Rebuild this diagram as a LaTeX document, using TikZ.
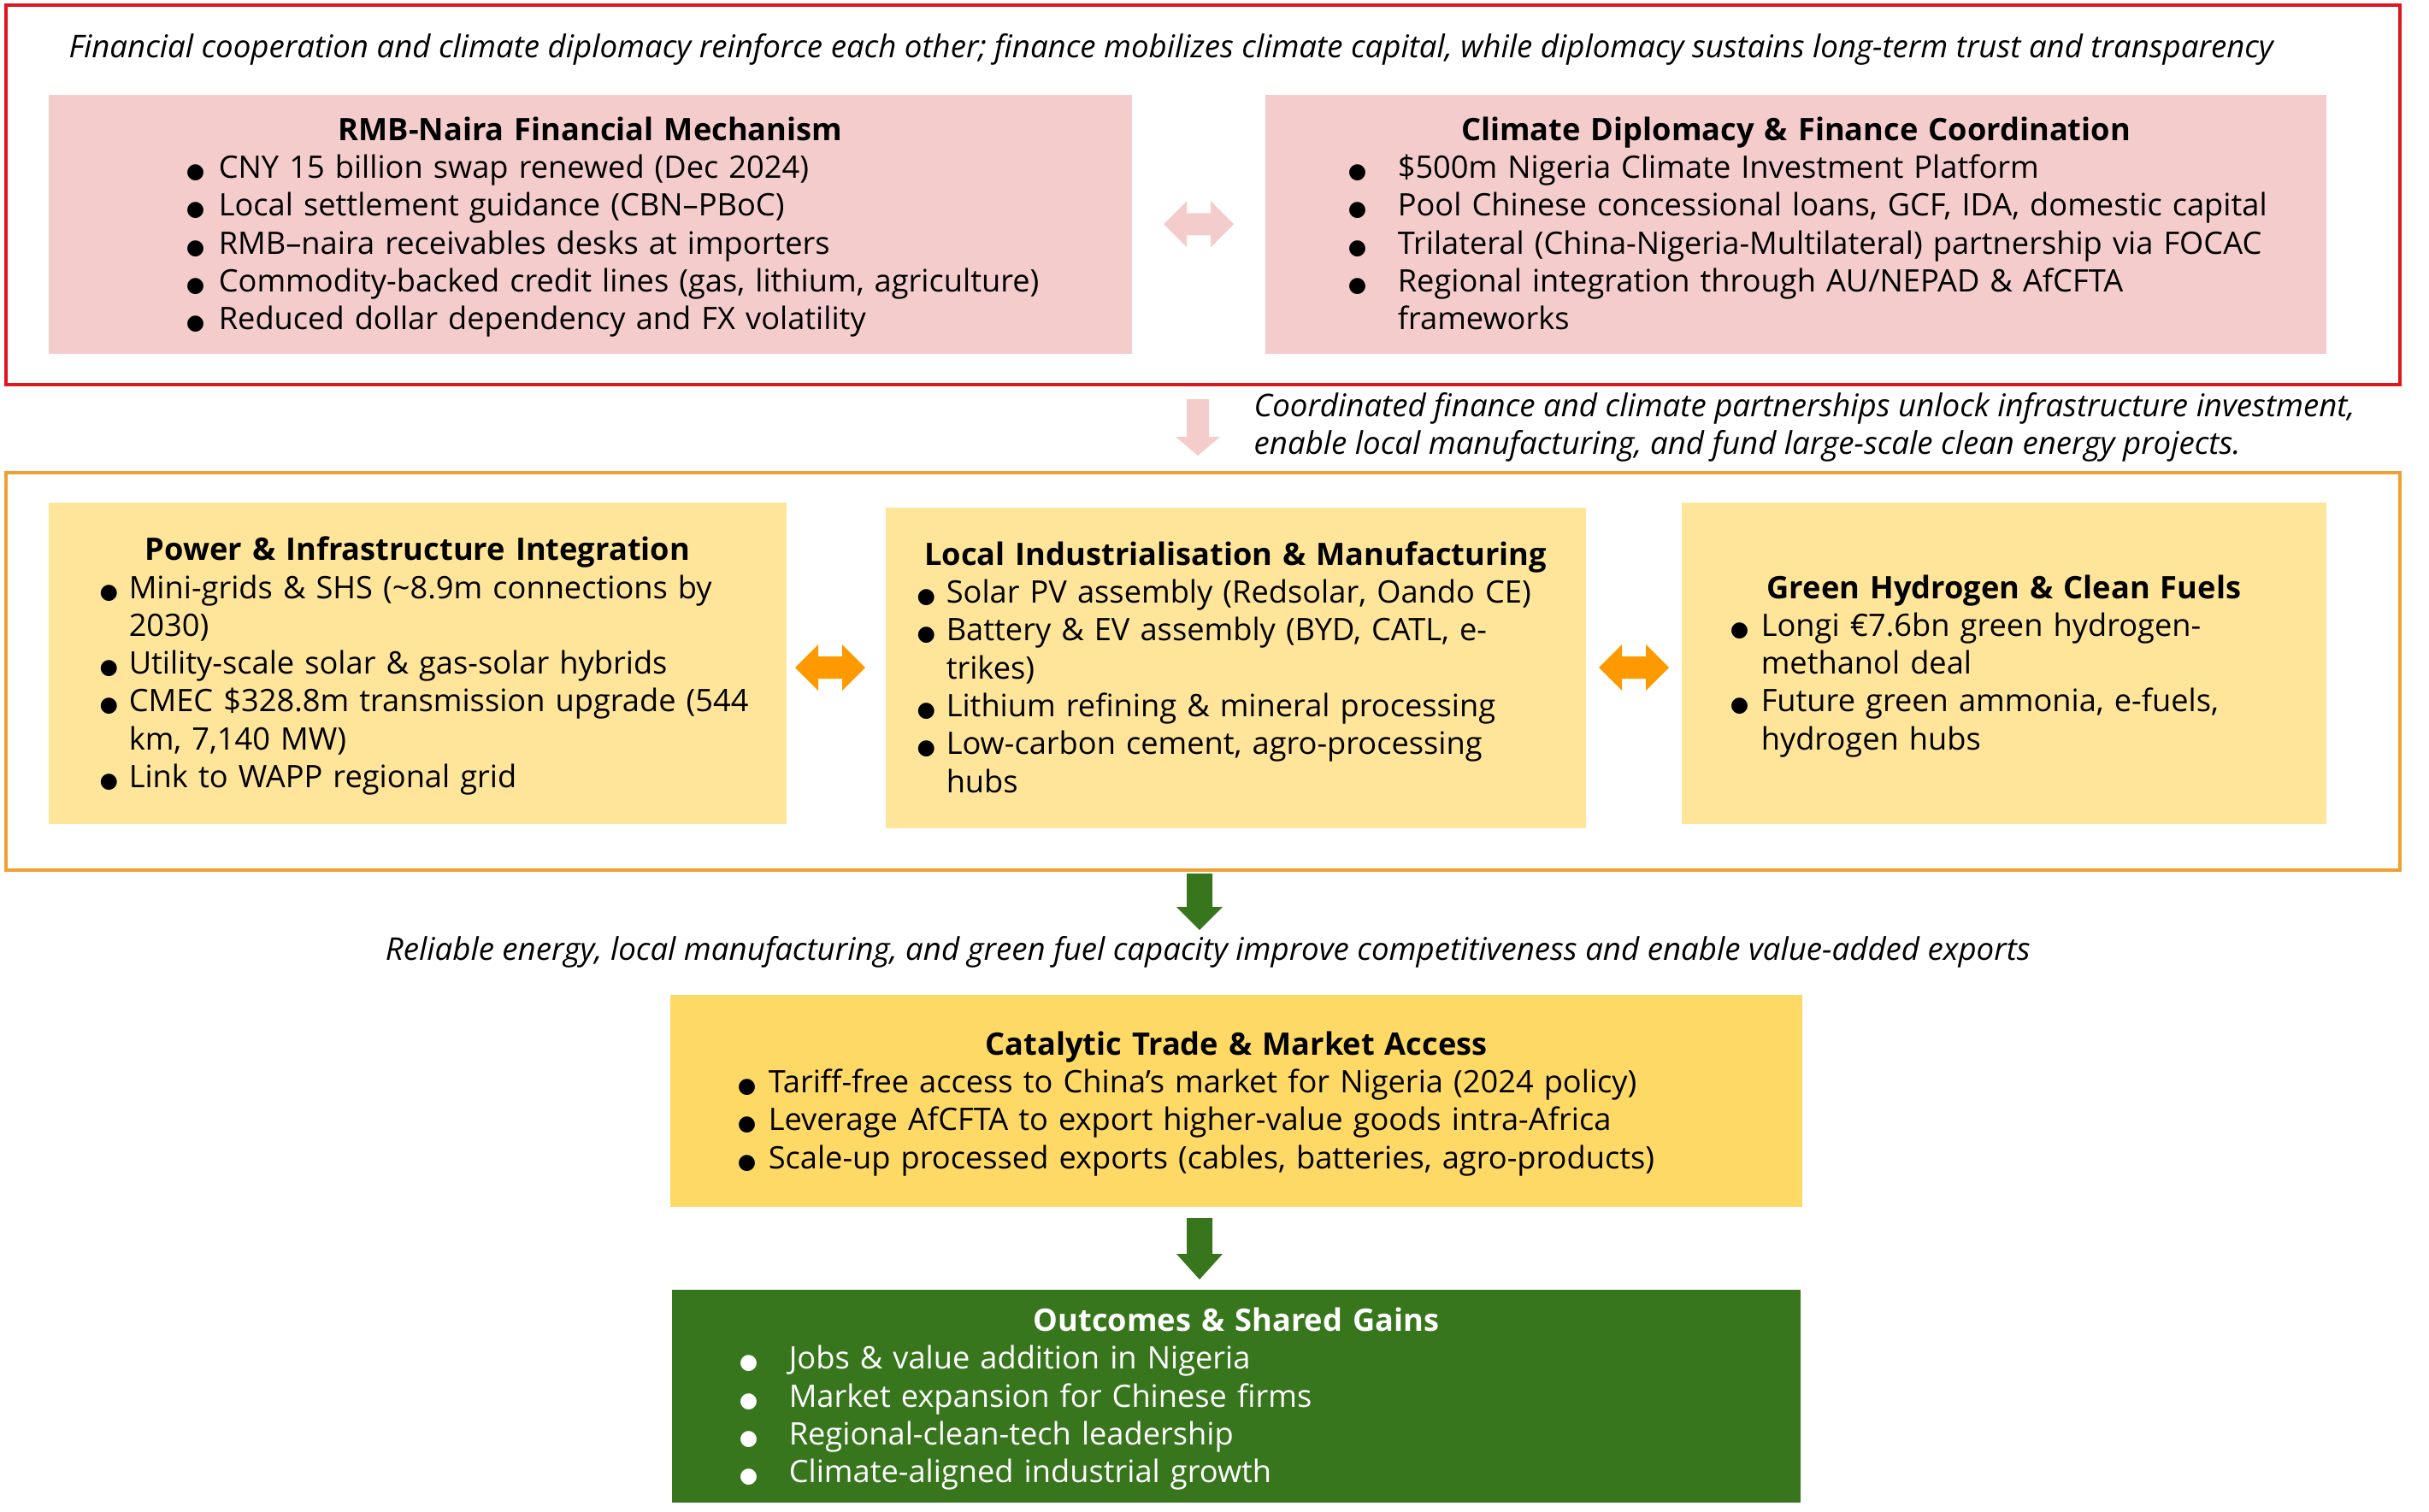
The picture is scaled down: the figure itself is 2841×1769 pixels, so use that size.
\documentclass[tikz,border=0pt]{standalone}
\usepackage{fontspec}
\setmainfont{Open Sans}
\newfontfamily\symfont{DejaVu Sans}
\usepackage{tikz}
\usetikzlibrary{calc,positioning}

\definecolor{redline}{HTML}{E0161E}
\definecolor{pinkfill}{HTML}{F4CCCC}
\definecolor{orangeline}{HTML}{F0A030}
\definecolor{orangearrow}{HTML}{FF9900}
\definecolor{yellowfill}{HTML}{FFE599}
\definecolor{goldfill}{HTML}{FFD966}
\definecolor{darkgreen}{HTML}{38761D}

\newlength\bgap
\newcommand\cardtitle[1]{{\centering\bfseries\rule{0pt}{9.8pt}#1\par}}
\newcommand\bset[2]{\leftskip=#1\bgap=#2\relax}
\newcommand\bitem[1]{\hangindent=\bgap\hangafter=1\noindent
  \makebox[\bgap][l]{\symfont\fontsize{7}{7}\selectfont ●}#1\rule[-2.5pt]{0pt}{0pt}\par}

\tikzset{
  card/.style={anchor=north west,inner xsep=0pt,inner ysep=0pt,align=left,
    font=\fontsize{10.3}{12.6}\selectfont},
  frame/.style={anchor=north west,line width=1.1pt,inner sep=0pt},
  caption/.style={inner sep=0pt,font=\fontsize{10.42}{12.6}\selectfont\itshape},
  pics/dblarrow/.style={code={
    \path[pic actions] (-41,0) -- (-14,-27) -- (-14,-13) -- (14,-13) -- (14,-27)
      -- (41,0) -- (14,27) -- (14,13) -- (-14,13) -- (-14,27) -- cycle;}},
  pics/downarrow/.style n args={4}{code={
    \path[pic actions] (-#3,0) -- (-#3,#1-#2) -- (-#4,#1-#2) -- (0,#1)
      -- (#4,#1-#2) -- (#3,#1-#2) -- (#3,0) -- cycle;}},
}

\begin{document}
\begin{tikzpicture}[x=0.01cm,y=-0.01cm]
  \useasboundingbox (0,0) rectangle (2841,1769);
  % frames
  \node[frame,draw=redline,minimum width=27.98cm,minimum height=4.44cm] (redframe) at (5,4) {};
  \node[frame,draw=orangeline,minimum width=27.98cm,minimum height=4.65cm] (orangeframe) at (5,551) {};
  \node[caption] (cap1) at (1370,58) {Financial cooperation and climate diplomacy reinforce each other; finance mobilizes climate capital, while diplomacy sustains long-term trust and transparency};

  % finance and diplomacy
  \node[card,fill=pinkfill,text width=12.67cm,minimum height=3.03cm] (rmb) at (56,110) {%
    \cardtitle{RMB-Naira Financial Mechanism}\bset{1.61cm}{0.38cm}%
    \bitem{CNY 15 billion swap renewed (Dec 2024)}
    \bitem{Local settlement guidance (CBN–PBoC)}
    \bitem{RMB–naira receivables desks at importers}
    \bitem{Commodity-backed credit lines (gas, lithium, agriculture)}
    \bitem{Reduced dollar dependency and FX volatility}};
  \node[card,fill=pinkfill,text width=12.41cm,minimum height=3.03cm] (climate) at (1479,110) {%
    \cardtitle{Climate Diplomacy \& Finance Coordination}\bset{0.97cm}{0.58cm}%
    \bitem{\$500m Nigeria Climate Investment Platform}
    \bitem{Pool Chinese concessional loans, GCF, IDA, domestic capital}
    \bitem{Trilateral (China-Nigeria-Multilateral) partnership via FOCAC}
    \bitem{Regional integration through AU/NEPAD \& AfCFTA\newline frameworks}};
  \pic[fill=pinkfill] at ($(rmb.east)!0.5!(climate.west)$) {dblarrow};

  \pic[fill=pinkfill] at (1401,467) {downarrow={66}{22}{13}{26}};
  \node[caption,anchor=west,align=left] (cap2) at (1466,500) {Coordinated finance and climate partnerships unlock infrastructure investment,\\enable local manufacturing, and fund large-scale clean energy projects.};

  % sector pillars
  \node[card,fill=yellowfill,text width=8.63cm,minimum height=3.76cm] (power) at (56,587) {%
    \cardtitle{Power \& Infrastructure Integration}\bset{0.60cm}{0.34cm}%
    \bitem{Mini-grids \& SHS (\textasciitilde8.9m connections by\newline 2030)}
    \bitem{Utility-scale solar \& gas-solar hybrids}
    \bitem{CMEC \$328.8m transmission upgrade (544\newline km, 7,140 MW)}
    \bitem{Link to WAPP regional grid}};
  \node[card,fill=yellowfill,text width=8.19cm,minimum height=3.75cm] (local) at (1035,593) {%
    \cardtitle{Local Industrialisation \& Manufacturing}\bset{0.37cm}{0.34cm}%
    \bitem{Solar PV assembly (Redsolar, Oando CE)}
    \bitem{Battery \& EV assembly (BYD, CATL, e-\newline trikes)}
    \bitem{Lithium refining \& mineral processing}
    \bitem{Low-carbon cement, agro-processing\newline hubs}};
  \node[card,fill=yellowfill,text width=7.54cm,minimum height=3.76cm] (hydrogen) at (1966,587) {%
    \cardtitle{Green Hydrogen \& Clean Fuels}\bset{0.57cm}{0.36cm}%
    \bitem{Longi €7.6bn green hydrogen-\newline methanol deal}
    \bitem{Future green ammonia, e-fuels,\newline hydrogen hubs}};
  \pic[fill=orangearrow] at (971,781) {dblarrow};
  \pic[fill=orangearrow] at (1911,781) {dblarrow};

  \pic[fill=darkgreen] at (1403,1022) {downarrow={66}{27}{15}{27}};
  \node[caption] (cap3) at (1413,1114) {Reliable energy, local manufacturing, and green fuel capacity improve competitiveness and enable value-added exports};

  % trade and outcomes
  \node[card,fill=goldfill,text width=13.24cm,minimum height=2.48cm] (trade) at (783,1163) {%
    \cardtitle{Catalytic Trade \& Market Access}\bset{0.79cm}{0.36cm}%
    \bitem{Tariff-free access to China’s market for Nigeria (2024 policy)}
    \bitem{Leverage AfCFTA to export higher-value goods intra-Africa}
    \bitem{Scale-up processed exports (cables, batteries, agro-products)}};
  \pic[fill=darkgreen] at (1403,1425) {downarrow={72}{30}{15}{27}};
  \node[card,fill=darkgreen,text=white,text width=13.20cm,minimum height=2.49cm] (outcomes) at (785,1508) {%
    \cardtitle{Outcomes \& Shared Gains}\bset{0.79cm}{0.58cm}%
    \bitem{Jobs \& value addition in Nigeria}
    \bitem{Market expansion for Chinese firms}
    \bitem{Regional-clean-tech leadership}
    \bitem{Climate-aligned industrial growth}};
\end{tikzpicture}
\end{document}
